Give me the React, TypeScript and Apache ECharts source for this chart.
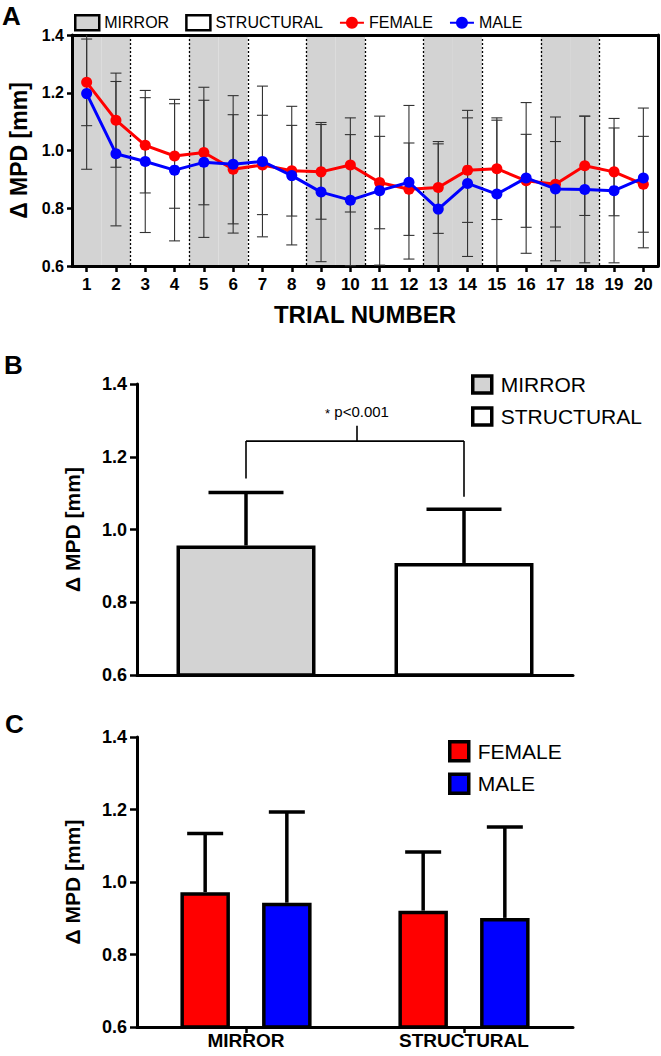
import { useEffect, useRef } from 'react';
import * as echarts from 'echarts';

// ---------- Panel A data ----------
const TRIALS = ['1', '2', '3', '4', '5', '6', '7', '8', '9', '10', '11', '12', '13', '14', '15', '16', '17', '18', '19', '20'];
const FEMALE_MEAN = [1.236, 1.105, 1.018, 0.981, 0.993, 0.935, 0.950, 0.930, 0.926, 0.950, 0.889, 0.866, 0.872, 0.932, 0.937, 0.895, 0.883, 0.947, 0.926, 0.883];
const FEMALE_SD = [0.150, 0.163, 0.165, 0.181, 0.181, 0.189, 0.172, 0.157, 0.164, 0.163, 0.160, 0.160, 0.159, 0.181, 0.176, 0.161, 0.148, 0.172, 0.152, 0.166];
const MALE_MEAN = [1.197, 0.989, 0.962, 0.932, 0.959, 0.952, 0.962, 0.913, 0.856, 0.828, 0.861, 0.890, 0.797, 0.886, 0.849, 0.905, 0.867, 0.865, 0.861, 0.905];
const MALE_SD = [0.262, 0.250, 0.246, 0.245, 0.260, 0.238, 0.261, 0.240, 0.241, 0.227, 0.258, 0.266, 0.226, 0.253, 0.256, 0.261, 0.249, 0.254, 0.250, 0.242];

// ---------- Panel B data ----------
const CONDITIONS = ['MIRROR', 'STRUCTURAL'];
const COND_MEAN = [0.956, 0.908];
const COND_SD = [0.146, 0.148];
const SIG_LABEL = 'p<0.001';
const SIG_BRACKET = 1.243;
const SIG_LEFT_END = 1.14;
const SIG_RIGHT_END = 1.09;
const SIG_STEM_TOP = 1.285;
const SIG_TEXT_Y = 1.324;

// ---------- Panel C data ----------
const SEX_FEMALE_MEAN = [0.972, 0.921];
const SEX_FEMALE_SD = [0.162, 0.162];
const SEX_MALE_MEAN = [0.943, 0.901];
const SEX_MALE_SD = [0.250, 0.251];

// ---------- Axis ----------
const Y_MIN = 0.6;
const Y_MAX = 1.4;
const Y_STEP = 0.2;

const FONT = '"Liberation Sans", Arial, Helvetica, sans-serif';
const GRAY = '#d3d3d3';
const RED = '#ff0000';
const BLUE = '#0000ff';

const BAR_W_B = 139;
const BAR_W_C = 49.5;
const BAR_GAP_C = 0.65;

function makeSdA(color: string) {
  return (params: any, api: any) => {
    const i = api.value(0);
    const m = api.value(1);
    const sd = api.value(2);
    const lo = m - sd;
    const hi = m + sd;
    const top = api.coord([i, Math.min(hi, Y_MAX)]);
    const bot = api.coord([i, Math.max(lo, Y_MIN)]);
    const hw = 5.5;
    const style = { stroke: color, lineWidth: 1.1 };
    const children: any[] = [
      { type: 'line', shape: { x1: top[0], y1: top[1], x2: bot[0], y2: bot[1] }, style },
    ];
    if (hi <= Y_MAX) children.push({ type: 'line', shape: { x1: top[0] - hw, y1: top[1], x2: top[0] + hw, y2: top[1] }, style });
    if (lo >= Y_MIN) children.push({ type: 'line', shape: { x1: bot[0] - hw, y1: bot[1], x2: bot[0] + hw, y2: bot[1] }, style });
    return { type: 'group', children };
  };
}

function makeSdUpper(offset: number, halfCap: number, width: number) {
  return (params: any, api: any) => {
    const i = api.value(0);
    const m = api.value(1);
    const sd = api.value(2);
    const base = api.coord([i, m]);
    const top = api.coord([i, m + sd]);
    const x = base[0] + offset;
    const style = { stroke: '#000', lineWidth: width };
    return {
      type: 'group',
      children: [
        { type: 'line', shape: { x1: x, y1: base[1], x2: x, y2: top[1] }, style },
        { type: 'line', shape: { x1: x - halfCap, y1: top[1], x2: x + halfCap, y2: top[1] }, style },
      ],
    };
  };
}

const renderBracket = (params: any, api: any) => {
  const l = api.coord([0, SIG_BRACKET]);
  const r = api.coord([1, SIG_BRACKET]);
  const lEnd = api.coord([0, SIG_LEFT_END]);
  const rEnd = api.coord([1, SIG_RIGHT_END]);
  const mid = (l[0] + r[0]) / 2 + 2;
  const stemTop = api.coord([0.5, SIG_STEM_TOP]);
  const textPos = api.coord([0.5, SIG_TEXT_Y]);
  const style = { stroke: '#000', lineWidth: 1.6 };
  return {
    type: 'group',
    children: [
      { type: 'line', shape: { x1: l[0], y1: l[1], x2: r[0], y2: r[1] }, style },
      { type: 'line', shape: { x1: l[0], y1: l[1], x2: lEnd[0], y2: lEnd[1] }, style },
      { type: 'line', shape: { x1: r[0], y1: r[1], x2: rEnd[0], y2: rEnd[1] }, style },
      { type: 'line', shape: { x1: mid, y1: l[1], x2: mid, y2: stemTop[1] }, style },
      {
        type: 'text',
        x: mid,
        y: textPos[1],
        style: {
          text: '{s|*} ' + SIG_LABEL,
          fontFamily: FONT,
          fontSize: 15,
          fill: '#000',
          align: 'center',
          verticalAlign: 'middle',
          rich: { s: { fontSize: 13, fontFamily: FONT, padding: [4, 0, 0, 0] } },
        },
      },
    ],
  };
};

const tickFmt = (v: number) => v.toFixed(1);

function valueAxis(gridIndex: number, labelSize: number, margin: number, tickLen: number, name: string, nameGap: number, nameSize: number) {
  return {
    type: 'value',
    gridIndex,
    min: Y_MIN,
    max: Y_MAX,
    interval: Y_STEP,
    name,
    nameLocation: 'middle',
    nameGap,
    nameTextStyle: { fontFamily: FONT, fontSize: nameSize, fontWeight: 'bold', color: '#000' },
    axisLine: { show: true, lineStyle: { color: '#000', width: 3 } },
    axisTick: { show: true, length: tickLen, lineStyle: { color: '#000', width: 2.5 } },
    axisLabel: { formatter: tickFmt, fontFamily: FONT, fontSize: labelSize, fontWeight: 'bold', color: '#000', margin },
    splitLine: { show: false },
  };
}

export default function App() {
  const ref = useRef<HTMLDivElement>(null);

  useEffect(() => {
    if (!ref.current) return;
    const chart = echarts.init(ref.current, null, { renderer: 'svg' });

    const option: any = {
      animation: false,
      backgroundColor: '#fff',
      textStyle: { fontFamily: FONT },
      graphic: [
        { type: 'text', left: 2, top: 3, style: { text: 'A', font: `bold 26px ${FONT}`, fill: '#000' } },
        { type: 'text', left: 4, top: 352, style: { text: 'B', font: `bold 26px ${FONT}`, fill: '#000' } },
        { type: 'text', left: 5, top: 711, style: { text: 'C', font: `bold 26px ${FONT}`, fill: '#000' } },
      ],
      legend: [
        {
          left: 74,
          top: 14,
          padding: 0,
          itemWidth: 24,
          itemHeight: 15,
          itemGap: 16,
          selectedMode: false,
          textStyle: { fontFamily: FONT, fontSize: 16, color: '#000' },
          data: [
            { name: 'MIRROR', icon: 'rect', itemStyle: { color: GRAY, borderColor: '#000', borderWidth: 2.5 } },
            { name: 'STRUCTURAL', icon: 'rect', itemStyle: { color: '#fff', borderColor: '#000', borderWidth: 2.5 } },
            { name: 'FEMALE' },
            { name: 'MALE' },
          ],
        },
        {
          orient: 'vertical',
          left: 471,
          top: 374,
          padding: 0,
          itemWidth: 19,
          itemHeight: 17,
          itemGap: 11,
          selectedMode: false,
          textStyle: { fontFamily: FONT, fontSize: 21, color: '#000', padding: [0, 0, 0, 4] },
          data: [
            { name: 'MIRROR', icon: 'rect', itemStyle: { color: GRAY, borderColor: '#000', borderWidth: 3.5 } },
            { name: 'STRUCTURAL', icon: 'rect', itemStyle: { color: '#fff', borderColor: '#000', borderWidth: 3.5 } },
          ],
        },
        {
          orient: 'vertical',
          left: 448,
          top: 740,
          padding: 0,
          itemWidth: 19,
          itemHeight: 19,
          itemGap: 10,
          selectedMode: false,
          textStyle: { fontFamily: FONT, fontSize: 21, color: '#000', padding: [0, 0, 0, 4] },
          data: [
            { name: 'FEMALE', icon: 'rect', itemStyle: { color: RED, borderColor: '#000', borderWidth: 3.5 } },
            { name: 'MALE', icon: 'rect', itemStyle: { color: BLUE, borderColor: '#000', borderWidth: 3.5 } },
          ],
        },
      ],
      grid: [
        { left: 72, right: 3, top: 35, height: 231, outerBoundsMode: 'none' },
        { left: 137, right: 88, top: 384, height: 291, outerBoundsMode: 'none' },
        { left: 137, right: 88, top: 737, height: 290, outerBoundsMode: 'none' },
      ],
      xAxis: [
        {
          type: 'category',
          gridIndex: 0,
          data: TRIALS,
          name: 'TRIAL NUMBER',
          nameLocation: 'middle',
          nameGap: 36,
          nameTextStyle: { fontFamily: FONT, fontSize: 24, fontWeight: 'bold', color: '#000' },
          axisLine: { show: true, lineStyle: { color: '#000', width: 3 } },
          axisTick: { show: true, alignWithLabel: true, length: 6, lineStyle: { color: '#000', width: 2.5 } },
          axisLabel: { fontFamily: FONT, fontSize: 17, fontWeight: 'bold', color: '#000', margin: 10, interval: 0 },
          splitArea: { show: true, interval: 0, areaStyle: { color: [GRAY, GRAY, '#ffffff', '#ffffff'] } },
          splitLine: {
            show: true,
            interval: (index: number) => index > 0 && index % 2 === 0,
            lineStyle: { color: '#000', width: 1.3, type: [2, 2] },
          },
        },
        {
          type: 'category',
          gridIndex: 0,
          position: 'top',
          data: TRIALS,
          axisLine: { show: true, lineStyle: { color: '#000', width: 3 } },
          axisTick: { show: false },
          axisLabel: { show: false },
          splitLine: { show: false },
        },
        {
          type: 'category',
          gridIndex: 1,
          data: CONDITIONS,
          axisLine: { show: true, lineStyle: { color: '#000', width: 3 } },
          axisTick: { show: false },
          axisLabel: { show: false },
          splitLine: { show: false },
        },
        {
          type: 'category',
          gridIndex: 2,
          data: CONDITIONS,
          axisLine: { show: true, lineStyle: { color: '#000', width: 3 } },
          axisTick: { show: true, alignWithLabel: true, length: 6, lineStyle: { color: '#000', width: 2.5 } },
          axisLabel: { fontFamily: FONT, fontSize: 19, lineHeight: 19, fontWeight: 'bold', color: '#000', margin: 4 },
          splitLine: { show: false },
        },
      ],
      yAxis: [
        valueAxis(0, 16, 8, 5, 'Δ MPD [mm]', 38, 23),
        {
          type: 'value',
          gridIndex: 0,
          position: 'right',
          min: Y_MIN,
          max: Y_MAX,
          interval: Y_STEP,
          axisLine: { show: true, lineStyle: { color: '#000', width: 3 } },
          axisTick: { show: false },
          axisLabel: { show: false },
          splitLine: { show: false },
        },
        valueAxis(1, 18, 10, 7, 'Δ MPD [mm]', 54, 21),
        valueAxis(2, 18, 10, 7, 'Δ MPD [mm]', 54, 21),
      ],
      series: [
        {
          name: 'sdFemale',
          type: 'custom',
          xAxisIndex: 0,
          yAxisIndex: 0,
          renderItem: makeSdA('#333'),
          encode: { x: 0, y: 1 },
          data: FEMALE_MEAN.map((m, i) => [i, m, FEMALE_SD[i]]),
          z: 2,
        },
        {
          name: 'sdMale',
          type: 'custom',
          xAxisIndex: 0,
          yAxisIndex: 0,
          renderItem: makeSdA('#333'),
          encode: { x: 0, y: 1 },
          data: MALE_MEAN.map((m, i) => [i, m, MALE_SD[i]]),
          z: 2,
        },
        {
          name: 'FEMALE',
          type: 'line',
          xAxisIndex: 0,
          yAxisIndex: 0,
          data: FEMALE_MEAN,
          symbol: 'circle',
          symbolSize: 11,
          lineStyle: { color: RED, width: 3 },
          itemStyle: { color: RED },
          z: 3,
        },
        {
          name: 'MALE',
          type: 'line',
          xAxisIndex: 0,
          yAxisIndex: 0,
          data: MALE_MEAN,
          symbol: 'circle',
          symbolSize: 11,
          lineStyle: { color: BLUE, width: 3 },
          itemStyle: { color: BLUE },
          z: 4,
        },
        {
          name: 'MIRROR',
          type: 'bar',
          xAxisIndex: 2,
          yAxisIndex: 2,
          barWidth: BAR_W_B,
          barGap: '-100%',
          data: COND_MEAN.map((v, i) => (i === 0 ? v : '-')),
          itemStyle: { color: GRAY, borderColor: '#000', borderWidth: 3.5 },
        },
        {
          name: 'STRUCTURAL',
          type: 'bar',
          xAxisIndex: 2,
          yAxisIndex: 2,
          barWidth: BAR_W_B,
          barGap: '-100%',
          data: COND_MEAN.map((v, i) => (i === 1 ? v : '-')),
          itemStyle: { color: '#fff', borderColor: '#000', borderWidth: 3.5 },
        },
        {
          name: 'sdCondition',
          type: 'custom',
          xAxisIndex: 2,
          yAxisIndex: 2,
          renderItem: makeSdUpper(0, 37.5, 3.5),
          encode: { x: 0, y: 1 },
          data: COND_MEAN.map((m, i) => [i, m, COND_SD[i]]),
          z: 1,
        },
        {
          name: 'significance',
          type: 'custom',
          xAxisIndex: 2,
          yAxisIndex: 2,
          renderItem: renderBracket,
          encode: { x: 0, y: 1 },
          data: [[0, SIG_BRACKET]],
          z: 3,
        },
        {
          name: 'FEMALE',
          type: 'bar',
          xAxisIndex: 3,
          yAxisIndex: 3,
          barWidth: BAR_W_C,
          barGap: `${BAR_GAP_C * 100}%`,
          data: SEX_FEMALE_MEAN,
          itemStyle: { color: RED, borderColor: '#000', borderWidth: 3.5 },
        },
        {
          name: 'MALE',
          type: 'bar',
          xAxisIndex: 3,
          yAxisIndex: 3,
          barWidth: BAR_W_C,
          barGap: `${BAR_GAP_C * 100}%`,
          data: SEX_MALE_MEAN,
          itemStyle: { color: BLUE, borderColor: '#000', borderWidth: 3.5 },
        },
        {
          name: 'sdSexFemale',
          type: 'custom',
          xAxisIndex: 3,
          yAxisIndex: 3,
          renderItem: makeSdUpper(-(BAR_W_C * (1 + BAR_GAP_C)) / 2, 18, 3.5),
          encode: { x: 0, y: 1 },
          data: SEX_FEMALE_MEAN.map((m, i) => [i, m, SEX_FEMALE_SD[i]]),
          z: 1,
        },
        {
          name: 'sdSexMale',
          type: 'custom',
          xAxisIndex: 3,
          yAxisIndex: 3,
          renderItem: makeSdUpper((BAR_W_C * (1 + BAR_GAP_C)) / 2, 18, 3.5),
          encode: { x: 0, y: 1 },
          data: SEX_MALE_MEAN.map((m, i) => [i, m, SEX_MALE_SD[i]]),
          z: 1,
        },
      ],
    };

    chart.setOption(option);
    return () => chart.dispose();
  }, []);

  return (
    <div
      ref={ref}
      style={{ position: 'absolute', left: 0, top: 0, width: 661, height: 1056, background: '#fff' }}
    />
  );
}
